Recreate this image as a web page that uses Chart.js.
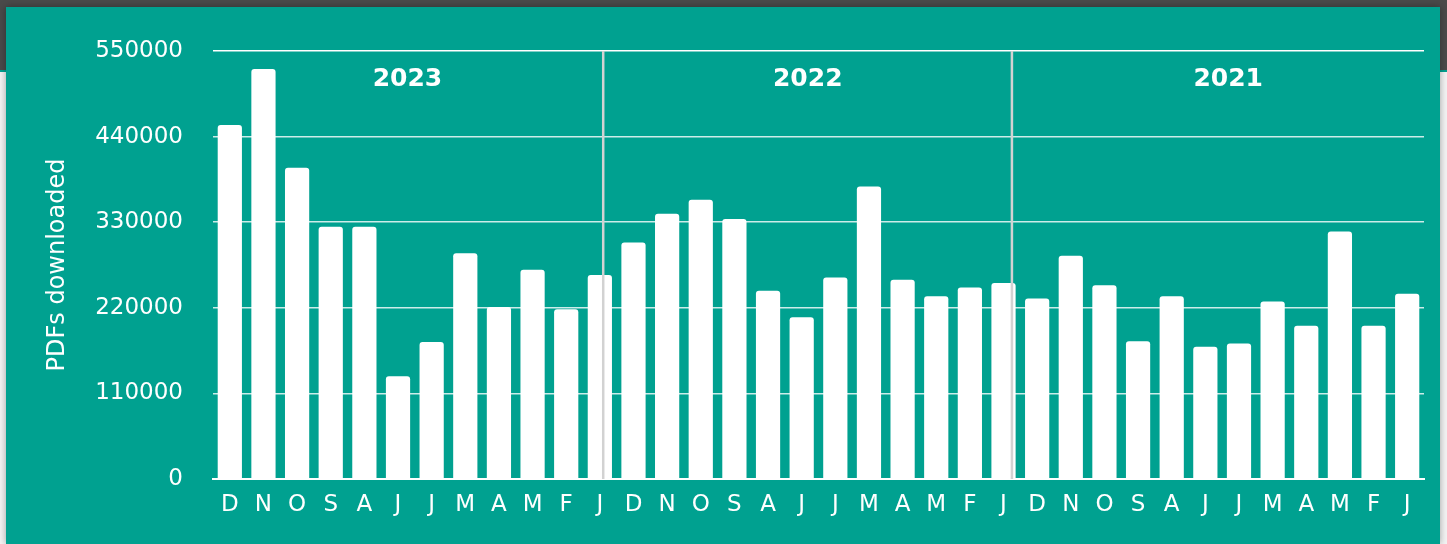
<!DOCTYPE html>
<html>
<head>
<meta charset="utf-8">
<script src="https://cdn.jsdelivr.net/npm/chart.js@4.4.1/dist/chart.umd.min.js"></script>
<style>
  html, body { margin: 0; padding: 0; }
  body {
    width: 1447px; height: 544px; overflow: hidden;
    background: #f3f3f3;
    position: relative;
  }
  .topbar {
    position: absolute; left: 0; top: 0; width: 1447px; height: 70px;
    background: #4a4a4a; border-bottom: 2px solid #00a190;
  }
  .card {
    position: absolute; left: 6px; top: 7px; width: 1434px; height: 537px;
    background: #00a190;
    box-shadow: 0 0 7px rgba(0,0,0,0.35);
  }
</style>
</head>
<body>
<div class="topbar"></div>
<div class="card"><canvas id="pdfChart"></canvas></div>
<script>
// months, newest first, three years
const months = ['D','N','O','S','A','J','J','M','A','M','F','J',
                'D','N','O','S','A','J','J','M','A','M','F','J',
                'D','N','O','S','A','J','J','M','A','M','F','J'];
const downloads = [455000, 527000, 400000, 324000, 324000, 132000, 176000, 290000, 221000, 269000, 218000, 262000,
                   304000, 341000, 359000, 334000, 242000, 208000, 259000, 376000, 256000, 235000, 246000, 252000,
                   232000, 287000, 249000, 177000, 235000, 170000, 174000, 228000, 197000, 318000, 197000, 238000];
const years = ['2023', '2022', '2021'];
const yMax = 550000;
const yStep = 110000;

const FONT = '"DejaVu Sans", sans-serif';

// year dividers and year headings
const yearPlugin = {
  id: 'years',
  afterDatasetsDraw(chart) {
    const { ctx, chartArea, scales: { x } } = chart;
    const step = x.getPixelForValue(1) - x.getPixelForValue(0);
    const at = i => x.getPixelForValue(0) + i * step;

    ctx.save();
    ctx.strokeStyle = '#d2d2d2';
    ctx.lineWidth = 2.5;
    [11.1, 23.25].forEach(i => {
      ctx.beginPath();
      ctx.moveTo(at(i), chartArea.top);
      ctx.lineTo(at(i), chartArea.bottom);
      ctx.stroke();
    });

    ctx.fillStyle = '#ffffff';
    ctx.font = 'bold 25px ' + FONT;
    ctx.textAlign = 'center';
    ctx.textBaseline = 'middle';
    [5.28, 17.18, 29.68].forEach((i, k) => {
      ctx.fillText(years[k], at(i), chartArea.top + 28);
    });
    ctx.restore();
  }
};

new Chart(document.getElementById('pdfChart'), {
  type: 'bar',
  data: {
    labels: months,
    datasets: [{
      data: downloads,
      backgroundColor: '#ffffff',
      borderRadius: 3,
      barPercentage: 0.9,
      categoryPercentage: 0.8
    }]
  },
  options: {
    responsive: true,
    maintainAspectRatio: false,
    animation: false,
    layout: { padding: { left: 0, top: 44, right: 16, bottom: 25 } },
    plugins: {
      legend: { display: false },
      tooltip: { enabled: false }
    },
    scales: {
      x: {
        grid: { display: false, drawTicks: false },
        border: { display: true, color: '#ffffff', width: 2 },
        ticks: {
          color: '#ffffff',
          font: { family: FONT, size: 23 },
          autoSkip: false,
          maxRotation: 0,
          padding: 12
        },
        afterFit: s => { s.height = 40; }
      },
      y: {
        min: 0,
        max: yMax,
        grid: {
          color: ctx => ctx.tick && ctx.tick.value === yMax ? '#ffffff' : 'rgba(255,255,255,0.8)',
          lineWidth: 1.5,
          drawTicks: false
        },
        border: { display: false },
        ticks: {
          stepSize: yStep,
          color: '#ffffff',
          font: { family: FONT, size: 23 },
          padding: 30,
          callback: v => String(v)
        },
        title: {
          display: true,
          text: 'PDFs downloaded',
          color: '#ffffff',
          font: { family: FONT, size: 24 },
          padding: { top: 37, bottom: 0 }
        },
        afterFit: s => { s.width = 207; }
      }
    }
  },
  plugins: [yearPlugin]
});
</script>
</body>
</html>
